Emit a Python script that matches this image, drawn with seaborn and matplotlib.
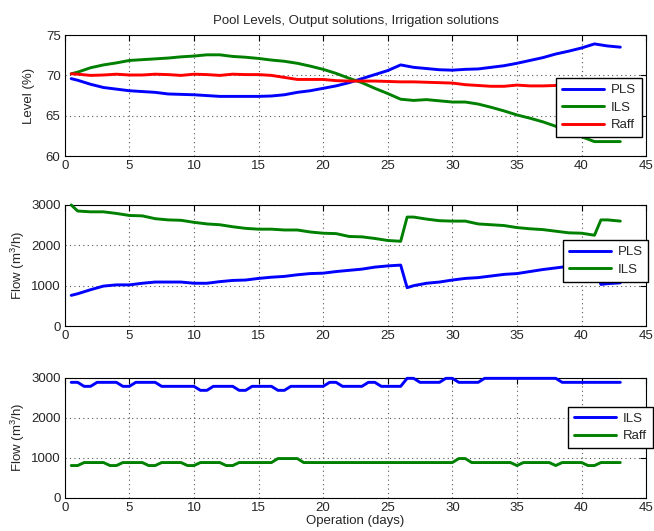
"""
    Pool levels and flows (PLS / ILS / Raff) over the operation period.
"""

import numpy as np
import pandas as pd
import matplotlib
matplotlib.use("Agg")
import matplotlib.pyplot as plt
import seaborn as sns

# ---- data ----
days_top = [0.5] + list(range(1, 44))

level_pls = [69.6, 69.4, 68.9, 68.5, 68.3, 68.1, 68.0, 67.9, 67.7, 67.65, 67.6,
             67.5, 67.4, 67.4, 67.4, 67.4, 67.45, 67.6, 67.9, 68.1, 68.4,
             68.7, 69.1, 69.6, 70.1, 70.6, 71.3, 71.0, 70.85, 70.7, 70.65,
             70.75, 70.8, 71.0, 71.2, 71.5, 71.85, 72.2, 72.65, 73.0, 73.4,
             73.9, 73.65, 73.5]
level_ils = [70.2, 70.4, 70.95, 71.3, 71.55, 71.85, 71.95, 72.05, 72.15, 72.3, 72.4,
             72.55, 72.55, 72.35, 72.25, 72.1, 71.9, 71.75, 71.5, 71.15, 70.75,
             70.25, 69.65, 69.1, 68.4, 67.75, 67.05, 66.9, 67.0, 66.85, 66.7,
             66.7, 66.45, 66.05, 65.6, 65.1, 64.7, 64.25, 63.7, 63.1, 62.4,
             61.8, 61.8, 61.8]
level_raff = [70.2, 70.15, 70.0, 70.05, 70.15, 70.05, 70.05, 70.15, 70.1, 70.0, 70.15,
              70.1, 70.0, 70.15, 70.1, 70.1, 70.0, 69.75, 69.5, 69.5, 69.5,
              69.35, 69.3, 69.3, 69.3, 69.25, 69.2, 69.2, 69.15, 69.1, 69.05,
              68.85, 68.75, 68.65, 68.65, 68.8, 68.7, 68.7, 68.75, 68.85, 68.9,
              68.85, 68.85, 68.85]

days_mid = ([0.5] + list(range(1, 27)) + [26.5] + list(range(27, 42))
            + [41.5, 42, 43])

out_ils = [3000, 2850, 2830, 2830, 2790, 2740, 2730, 2660, 2630, 2620, 2570,
           2530, 2510, 2460, 2420, 2400, 2400, 2380, 2380, 2330, 2300,
           2290, 2220, 2210, 2170, 2120, 2100,
           2700, 2700, 2650, 2610, 2600, 2600, 2530, 2510, 2490, 2440,
           2410, 2390, 2350, 2310, 2300, 2250,
           2630, 2630, 2600]
out_pls = [760, 800, 900, 990, 1020, 1020, 1060, 1090, 1090, 1090, 1060,
           1060, 1100, 1130, 1140, 1180, 1210, 1230, 1270, 1300, 1310,
           1350, 1380, 1410, 1460, 1490, 1510,
           950, 1000, 1060, 1090, 1140, 1180, 1200, 1240, 1280, 1300,
           1350, 1400, 1440, 1480, 1510, 1540,
           1030, 1050, 1070]

# half-day sampling grid for the irrigation flows
days_bot = np.arange(0.5, 43.01, 0.5)

irr_ils = [2880, 2880, 2780, 2780, 2880, 2880, 2880, 2880, 2780, 2780,   # 0.5 - 5.0
           2880, 2880, 2880, 2880, 2780, 2780, 2780, 2780, 2780, 2780,   # 5.5 - 10.0
           2680, 2680, 2780, 2780, 2780, 2780, 2680, 2680, 2780, 2780,   # 10.5 - 15.0
           2780, 2780, 2680, 2680, 2780, 2780, 2780, 2780, 2780, 2780,   # 15.5 - 20.0
           2880, 2880, 2780, 2780, 2780, 2780, 2880, 2880, 2780, 2780,   # 20.5 - 25.0
           2780, 2780, 2980, 2980, 2880, 2880, 2880, 2880, 2980, 2980,   # 25.5 - 30.0
           2880, 2880, 2880, 2880, 2980, 2980, 2980, 2980, 2980, 2980,   # 30.5 - 35.0
           2980, 2980, 2980, 2980, 2980, 2980, 2880, 2880, 2880, 2880,   # 35.5 - 40.0
           2880, 2880, 2880, 2880, 2880, 2880]                           # 40.5 - 43.0
irr_raff = [800, 800, 875, 875, 875, 875, 800, 800, 875, 875,           # 0.5 - 5.0
            875, 875, 800, 800, 875, 875, 875, 875, 800, 800,           # 5.5 - 10.0
            875, 875, 875, 875, 800, 800, 875, 875, 875, 875,           # 10.5 - 15.0
            875, 875, 975, 975, 975, 975, 875, 875, 875, 875,           # 15.5 - 20.0
            875, 875, 875, 875, 875, 875, 875, 875, 875, 875,           # 20.5 - 25.0
            875, 875, 875, 875, 875, 875, 875, 875, 875, 875,           # 25.5 - 30.0
            975, 975, 875, 875, 875, 875, 875, 875, 875, 800,           # 30.5 - 35.0
            875, 875, 875, 875, 875, 800, 875, 875, 875, 875,           # 35.5 - 40.0
            800, 800, 875, 875, 875, 875]                               # 40.5 - 43.0

BLUE = (0, 0, 1)
GREEN = (0, 0.5, 0)
RED = (1, 0, 0)

sns.set_style("white")
plt.rcParams['font.family'] = ['Liberation Sans', 'DejaVu Sans']
plt.rcParams['font.size'] = 9.5
plt.rcParams['mathtext.fontset'] = 'custom'
plt.rcParams['mathtext.rm'] = 'Liberation Sans'

FS = 9.5


def style_axes(ax, ylim, yticks):
    ax.set_xlim(0, 45)
    ax.set_ylim(*ylim)
    ax.set_xticks(range(0, 46, 5))
    ax.set_yticks(yticks)
    ax.grid(True, linestyle=(0, (1, 3)), color='#555555', linewidth=0.8)
    ax.tick_params(direction='in', top=True, right=True, length=4,
                   width=0.8, labelsize=FS, color='black', pad=3)
    for s in ax.spines.values():
        s.set_color('black')
        s.set_linewidth(0.8)
    # curves sit over the box like the original
    for ln in ax.lines:
        ln.set_clip_on(False)
        ln.set_zorder(3)
    ax.set_xlabel('')


def add_legend(ax, anchor):
    leg = ax.legend(loc='lower right', bbox_to_anchor=anchor, borderaxespad=0,
                    fancybox=False, framealpha=1, edgecolor='black',
                    handlelength=3.2, handletextpad=0.5, labelspacing=0.4,
                    borderpad=0.45, fontsize=FS)
    leg.get_frame().set_linewidth(1.0)
    leg.set_zorder(10)


fig = plt.figure(figsize=(6.54, 5.31), dpi=100)
ax1 = fig.add_axes([0.099, 0.706, 0.889, 0.228])
ax2 = fig.add_axes([0.099, 0.386, 0.889, 0.228])
ax3 = fig.add_axes([0.099, 0.063, 0.889, 0.226])

lw = 2.1

# pool levels
df_top = pd.DataFrame({'day': days_top, 'PLS': level_pls,
                       'ILS': level_ils, 'Raff': level_raff})
for name, col in [('PLS', BLUE), ('ILS', GREEN), ('Raff', RED)]:
    sns.lineplot(data=df_top, x='day', y=name, color=col, linewidth=lw,
                 label=name, ax=ax1)
style_axes(ax1, (60, 75), [60, 65, 70, 75])
ax1.set_ylabel('Level (%)', fontsize=FS, labelpad=8)
ax1.set_title('Pool Levels, Output solutions, Irrigation solutions',
              fontsize=FS, pad=8)
add_legend(ax1, (0.9926, 0.156))

# output solutions
df_mid = pd.DataFrame({'day': days_mid, 'PLS': out_pls, 'ILS': out_ils})
for name, col in [('PLS', BLUE), ('ILS', GREEN)]:
    sns.lineplot(data=df_mid, x='day', y=name, color=col, linewidth=lw,
                 label=name, ax=ax2)
style_axes(ax2, (0, 3000), [0, 1000, 2000, 3000])
ax2.set_ylabel('Flow (m$^3$/h)', fontsize=FS, labelpad=3)
add_legend(ax2, (1.004, 0.366))

# irrigation solutions
df_bot = pd.DataFrame({'day': days_bot, 'ILS': irr_ils, 'Raff': irr_raff})
for name, col in [('ILS', BLUE), ('Raff', GREEN)]:
    sns.lineplot(data=df_bot, x='day', y=name, color=col, linewidth=lw,
                 label=name, ax=ax3)
style_axes(ax3, (0, 3000), [0, 1000, 2000, 3000])
ax3.set_ylabel('Flow (m$^3$/h)', fontsize=FS, labelpad=3)
ax3.set_xlabel('Operation (days)', fontsize=FS, labelpad=1)
add_legend(ax3, (1.0115, 0.41))

fig.savefig('out.png', dpi=100)
plt.close(fig)
